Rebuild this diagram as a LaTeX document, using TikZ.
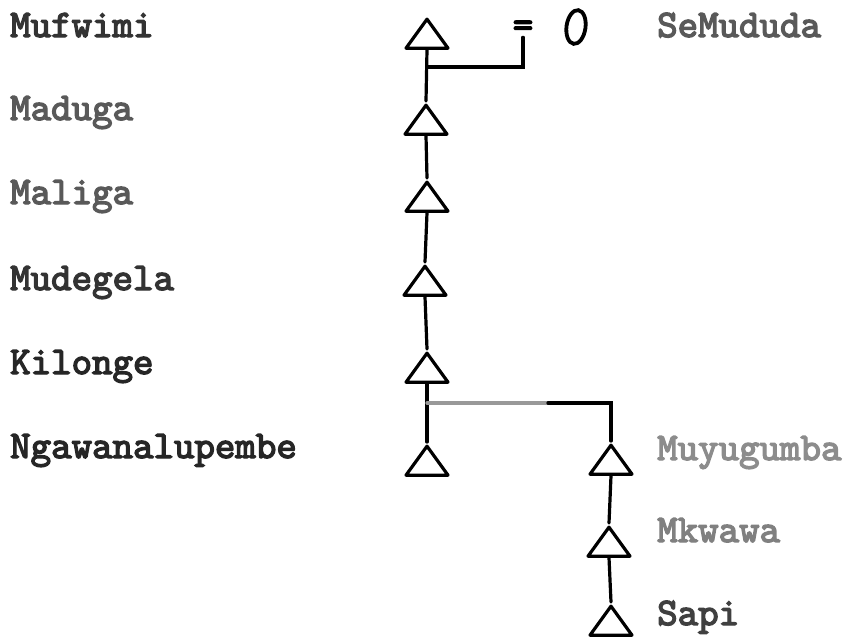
\documentclass[tikz,border=0pt]{standalone}
\usepackage{fontspec}
\newfontfamily\typer{lmmono10-regular.otf}[FakeBold=3.5]
\usetikzlibrary{shapes.geometric}
\begin{document}
\begin{tikzpicture}[x=1pt,y=-1pt,
  person/.style={anchor=base west, inner sep=0pt,
    font=\fontsize{39}{39}\selectfont\typer},
  male/.style={draw, isosceles triangle, shape border rotate=90,
    isosceles triangle stretches, minimum width=42pt, minimum height=29pt,
    inner sep=0pt, line width=3.2pt, line join=round, anchor=apex},
  kin/.style={line width=3.2pt, line cap=round},
  faint/.style={kin, draw=black!40}
]
\useasboundingbox (0,0) rectangle (849,641);

% names, typed down the left and right
\node[person, text=black!80] (nMufwimi) at (10,37) {Mufwimi};
\node[person, text=black!65] (nMaduga) at (10,120) {Maduga};
\node[person, text=black!65] (nMaliga) at (10,204) {Maliga};
\node[person, text=black!80] (nMudegela) at (10,290) {Mudegela};
\node[person, text=black!85] (nKilonge) at (10,374) {Kilonge};
\node[person, text=black!85] (nNgawa) at (10,458) {Ngawanalupembe};
\node[person, text=black!65] (nSeMududa) at (657,37) {SeMududa};
\node[person, text=black!45] (nMuyugumba) at (657,460) {Muyugumba};
\node[person, text=black!50] (nMkwawa) at (657,542) {Mkwawa};
\node[person, text=black!75] (nSapi) at (657,625) {Sapi};

% male symbols of the line
\node[male] (m1) at (427,15) {};
\node[male] (m2) at (426,101) {};
\node[male] (m3) at (427,178) {};
\node[male] (m4) at (425,262) {};
\node[male] (m5) at (427,349) {};
\node[male] (m6) at (427,442) {};
\node[male] (m7) at (611,441) {};
\node[male] (m8) at (609,523) {};
\node[male] (m9) at (611,602) {};

% marriage sign and wife
\node[inner sep=0pt, font=\fontsize{39}{39}\selectfont\typer] (eq) at (523,29) {=};
\node[draw, ellipse, line width=3.8pt, minimum width=19pt, minimum height=34pt,
  inner sep=0pt, rotate=-8] (wife) at (576,27) {};

% descent lines
\draw[kin] (m1.south) -- (m2.apex);
\draw[kin] (m2.south) -- (m3.apex);
\draw[kin] (m3.south) -- (m4.apex);
\draw[kin] (m4.south) -- (m5.apex);
\draw[kin] (m5.south) -- (m6.apex);
\draw[kin] (m7.south) -- (m8.apex);
\draw[kin] (m8.south) -- (m9.apex);

% marriage bar
\coordinate (wed) at (427,67);
\draw[kin] (wed) -- (wed -| eq) -- (eq.south);

% branch to the second line
\coordinate (fork) at (427,403);
\coordinate (mend) at (548,403);
\draw[faint] (fork) -- (mend);
\draw[kin] (mend) -- (mend -| m7.apex) -- (m7.apex);
\end{tikzpicture}
\end{document}
